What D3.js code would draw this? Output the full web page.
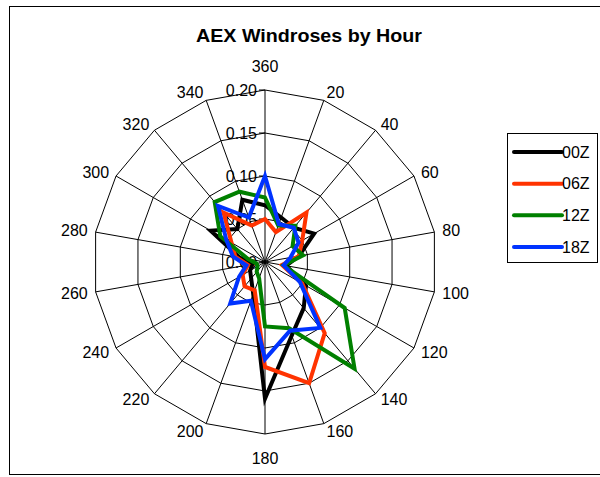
<!DOCTYPE html>
<html>
<head>
<meta charset="utf-8">
<script src="https://cdn.jsdelivr.net/npm/d3@7"></script>
<style>
  html, body { margin: 0; padding: 0; background: #ffffff; }
  svg { display: block; }
  text { font-family: "Liberation Sans", Arial, sans-serif; fill: #000; }
</style>
</head>
<body>
<svg id="chart" width="600" height="477"></svg>
<script>
// Wind direction categories (degrees), clockwise from north
const categories = ["360", "20", "40", "60", "80", "100", "120", "140", "160",
                    "180", "200", "220", "240", "260", "280", "300", "320", "340"];
// Radial axis ticks (relative frequency)
const radialTicks = [0, 0.05, 0.10, 0.15, 0.20];
const seriesNames = ["00Z", "06Z", "12Z", "18Z"];
const seriesColors = ["#000000", "#ff3300", "#008000", "#0033ff"];
// Frequency of each direction, one list per observation hour
const freq00Z = [0.066, 0.055, 0.052, 0.066, 0.040, 0.025, 0.055, 0.070, 0.091, 0.159, 0.040, 0.025, 0.020, 0.015, 0.030, 0.073, 0.050, 0.077];
const freq06Z = [0.050, 0.037, 0.075, 0.050, 0.040, 0.020, 0.050, 0.108, 0.150, 0.122, 0.035, 0.037, 0.030, 0.020, 0.035, 0.045, 0.075, 0.045];
const freq12Z = [0.075, 0.045, 0.055, 0.037, 0.045, 0.022, 0.107, 0.162, 0.082, 0.075, 0.020, 0.015, 0.010, 0.010, 0.020, 0.060, 0.091, 0.087];
const freq18Z = [0.100, 0.047, 0.052, 0.045, 0.030, 0.022, 0.047, 0.100, 0.085, 0.113, 0.048, 0.063, 0.035, 0.022, 0.038, 0.052, 0.085, 0.055];
const seriesValues = [freq00Z, freq06Z, freq12Z, freq18Z];

const svg = d3.select("#chart");
const cx = 265, cy = 262, R = 172;

// Outer frame
svg.append("rect")
  .attr("x", 9.5).attr("y", 6.5).attr("width", 620).attr("height", 468)
  .attr("fill", "#fff").attr("stroke", "#000").attr("stroke-width", 1);

// Title
svg.append("text")
  .attr("x", 309).attr("y", 42)
  .attr("text-anchor", "middle")
  .attr("font-size", 18).attr("font-weight", "bold")
  .attr("textLength", 226).attr("lengthAdjust", "spacingAndGlyphs")
  .text("AEX Windroses by Hour");

const rScale = d3.scaleLinear().domain([0, 0.20]).range([0, R]);
const aScale = d3.scaleLinear().domain([0, categories.length]).range([0, 2 * Math.PI]);

const g = svg.append("g").attr("transform", `translate(${cx},${cy})`);

// Polygonal grid rings
const ringLine = d3.lineRadial()
  .angle((d, i) => aScale(i))
  .radius(d => rScale(d))
  .curve(d3.curveLinearClosed);
g.selectAll("path.ring")
  .data(radialTicks.slice(1))
  .join("path")
  .attr("class", "ring")
  .attr("d", t => ringLine(categories.map(() => t)))
  .attr("fill", "none").attr("stroke", "#000").attr("stroke-width", 1);

// Spokes
g.selectAll("line.spoke")
  .data(categories)
  .join("line")
  .attr("class", "spoke")
  .attr("x1", 0).attr("y1", 0)
  .attr("x2", (d, i) => rScale(0.20) * Math.sin(aScale(i)))
  .attr("y2", (d, i) => -rScale(0.20) * Math.cos(aScale(i)))
  .attr("stroke", "#000").attr("stroke-width", 1);

// Tick marks and labels on the north axis
g.selectAll("line.tick")
  .data(radialTicks)
  .join("line")
  .attr("class", "tick")
  .attr("x1", -6).attr("x2", 0)
  .attr("y1", t => -rScale(t)).attr("y2", t => -rScale(t))
  .attr("stroke", "#000");
g.selectAll("text.rlabel")
  .data(radialTicks)
  .join("text")
  .attr("class", "rlabel")
  .attr("x", -8)
  .attr("y", t => -rScale(t))
  .attr("dy", "0.35em")
  .attr("text-anchor", "end")
  .attr("font-size", 16)
  .text(t => d3.format(".2f")(t));

// Direction labels around the rim
g.selectAll("text.clabel")
  .data(categories)
  .join("text")
  .attr("class", "clabel")
  .each(function (d, i) {
    const a = aScale(i), s = Math.sin(a), c = Math.cos(a);
    const vertical = Math.abs(s) < 0.1;
    const rr = vertical ? R + 24 : R + 8;
    d3.select(this)
      .attr("x", rr * s)
      .attr("y", -rr * c)
      .attr("dy", "0.35em")
      .attr("text-anchor", vertical ? "middle" : (s > 0 ? "start" : "end"));
  })
  .attr("font-size", 16)
  .text(d => d);

// Series polygons
const seriesLine = d3.lineRadial()
  .angle((d, i) => aScale(i))
  .radius(d => rScale(d))
  .curve(d3.curveLinearClosed);
g.selectAll("path.series")
  .data(seriesValues)
  .join("path")
  .attr("class", "series")
  .attr("d", v => seriesLine(v))
  .attr("fill", "none")
  .attr("stroke", (v, i) => seriesColors[i])
  .attr("stroke-width", 4)
  .attr("stroke-linejoin", "miter");

// Legend
const legend = svg.append("g");
legend.append("rect")
  .attr("x", 507.5).attr("y", 133.5).attr("width", 90).attr("height", 129)
  .attr("fill", "#fff").attr("stroke", "#000").attr("stroke-width", 1);
const legendY = d3.scaleLinear().domain([0, 3]).range([152, 247]);
seriesNames.forEach((name, i) => {
  legend.append("line")
    .attr("x1", 514).attr("x2", 562)
    .attr("y1", legendY(i)).attr("y2", legendY(i))
    .attr("stroke", seriesColors[i]).attr("stroke-width", 4)
    .attr("stroke-linecap", "round");
  legend.append("text")
    .attr("x", 562).attr("y", legendY(i)).attr("dy", "0.35em")
    .attr("font-size", 16)
    .text(name);
});
</script>
</body>
</html>
